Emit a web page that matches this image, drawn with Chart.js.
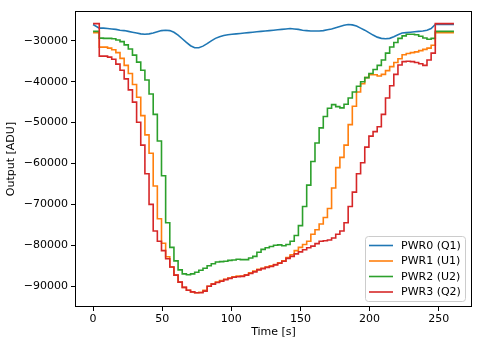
<!DOCTYPE html>
<html>
<head>
<meta charset="utf-8">
<script src="https://cdn.jsdelivr.net/npm/chart.js@4.4.0/dist/chart.umd.min.js"></script>
<style>
    html, body { margin: 0; padding: 0; background: #fff; }
    canvas { display: block; }
</style>
</head>
<body>
<canvas id="output-chart" width="483" height="347"></canvas>
<script>
// Time axis [s]
const times = [
    0, 4.5, 7.5, 10.5, 13.5, 16.5, 19.5, 22.5, 25.5, 28.5,
    31.5, 34.5, 37.5, 40.5, 43.5, 46.5, 49.5, 52.5, 55.5, 58.5,
    61.5, 64.5, 67.5, 70.5, 73.5, 76.5, 79.5, 82.5, 85.5, 88.5,
    91.5, 94.5, 97.5, 100.5, 103.5, 106.5, 109.5, 112.5, 115.5, 118.5,
    121.5, 124.5, 127.5, 130.5, 133.5, 136.5, 139.5, 142.5, 145.5, 148.5,
    151.5, 154.5, 157.5, 160.5, 163.5, 166.5, 169.5, 172.5, 175.5, 178.5,
    181.5, 184.5, 187.5, 190.5, 193.5, 196.5, 199.5, 202.5, 205.5, 208.5,
    211.5, 214.5, 217.5, 220.5, 223.5, 226.5, 229.5, 232.5, 235.5, 238.5,
    241.5, 244.5, 247.5, 261
];

// Output [ADU] per channel (each value holds until the next time)
const pwr0 = [
    -26000, -26900, -26900, -27000, -27100, -27200, -27400, -27500, -27700, -27900,
    -28100, -28300, -28400, -28300, -28100, -27800, -27500, -27400, -27500, -27900,
    -28600, -29500, -30400, -31200, -31700, -31700, -31300, -30700, -30000, -29400,
    -29000, -28700, -28500, -28400, -28300, -28200, -28100, -28000, -27900, -27800,
    -27700, -27600, -27500, -27400, -27300, -27200, -27100, -27000, -27100, -27200,
    -27400, -27500, -27600, -27600, -27600, -27500, -27300, -27100, -26800, -26500,
    -26200, -26000, -26100, -26400, -26900, -27400, -28000, -28600, -29100, -29400,
    -29500, -29400, -29000, -28500, -28100, -28000, -27900, -27800, -27700, -27600,
    -27400, -27000, -26000, -26000
];
const pwr1 = [
    -28000, -31550, -31550, -31800, -32200, -32900, -34300, -36000, -38000, -40700,
    -43800, -48300, -53000, -57500, -65500, -73500, -79500, -82800, -85300, -87300,
    -89000, -90300, -91000, -91400, -91600, -91500, -91000, -90000, -89400, -89000,
    -88600, -88300, -88000, -87700, -87500, -87500, -87200, -86700, -86300, -85900,
    -85600, -85300, -85000, -84700, -84300, -83800, -83000, -82300, -81300, -80500,
    -79800, -79000, -77300, -76200, -74800, -73200, -71000, -66000, -61000, -58500,
    -55500, -50500, -46000, -42500, -40500, -39000, -38300, -38300, -38600, -38200,
    -37300, -36300, -35300, -34400, -33400, -33100, -32900, -32700, -32400, -32100,
    -31800, -31100, -28000, -28000
];
const pwr2 = [
    -27700, -29350, -29400, -29400, -29500, -29800, -30200, -31000, -32000, -33500,
    -35200, -37200, -39600, -43000, -48000, -54500, -63000, -74500, -80500, -83800,
    -86000, -87000, -87200, -87000, -86600, -86100, -85600, -85000, -84500, -84100,
    -84000, -83900, -83700, -83600, -83400, -83500, -83500, -83100, -82700, -81700,
    -81000, -80600, -80300, -80000, -79900, -80100, -79800, -79000, -77600, -75200,
    -70500, -65300, -59500, -55000, -51300, -48500, -46500, -45600, -46100, -46400,
    -45500, -44000, -42500, -41100, -40000, -39000, -38000, -37000, -36000, -34700,
    -33000, -31500, -30400, -29400, -28800, -28400, -28400, -28500, -28900, -29300,
    -29600, -29400, -27700, -27700
];
const pwr3 = [
    -25800, -33750, -33750, -34000, -34500, -35700, -37200, -39300, -42000, -45000,
    -49900, -55500, -62500, -70000, -76500, -79000, -81300, -83300, -85300, -87300,
    -89000, -90300, -91000, -91400, -91600, -91600, -91200, -90000, -89500, -89100,
    -88800, -88400, -88100, -87800, -87700, -87600, -87300, -86900, -86500, -86000,
    -85700, -85400, -85200, -84800, -84400, -83900, -83200, -82700, -82100, -81600,
    -81100, -80600, -80200, -79600, -79000, -78900, -78700, -78200, -77300, -76500,
    -74500, -70500, -67000, -62500, -59800, -56000, -53300, -52200, -51000, -48000,
    -44000, -41000, -38200, -35900, -35100, -35000, -35100, -35300, -35600, -36000,
    -34700, -33000, -25800, -25800
];

const seriesLabels = ['PWR0 (Q1)', 'PWR1 (U1)', 'PWR2 (U2)', 'PWR3 (Q2)'];
const seriesColors = ['#1f77b4', '#ff7f0e', '#2ca02c', '#d62728'];

const xTicks = [0, 50, 100, 150, 200, 250];
const yTicks = [-90000, -80000, -70000, -60000, -50000, -40000, -30000];

function toPoints(values) {
    return values.map((v, i) => ({ x: times[i], y: v }));
}

function minusLabel(value) {
    return (value < 0 ? '\u2212' : '') + Math.abs(value);
}

// Frame around the plot area
const framePlugin = {
    id: 'frame',
    afterDraw(chart) {
        const a = chart.chartArea;
        const ctx = chart.ctx;
        ctx.save();
        ctx.strokeStyle = '#000';
        ctx.lineWidth = 1;
        ctx.strokeRect(Math.round(a.left) + 0.5, Math.round(a.top) + 0.5,
            Math.round(a.right - a.left) - 1, Math.round(a.bottom - a.top) - 1);
        ctx.restore();
    }
};

// Legend box in the lower right corner, like matplotlib
const legendPlugin = {
    id: 'boxLegend',
    afterDraw(chart) {
        const ctx = chart.ctx;
        const x = 365.5, y = 236.5, w = 100, h = 65, r = 3;
        ctx.save();
        ctx.beginPath();
        ctx.moveTo(x + r, y);
        ctx.arcTo(x + w, y, x + w, y + h, r);
        ctx.arcTo(x + w, y + h, x, y + h, r);
        ctx.arcTo(x, y + h, x, y, r);
        ctx.arcTo(x, y, x + w, y, r);
        ctx.closePath();
        ctx.fillStyle = 'rgba(255,255,255,0.8)';
        ctx.fill();
        ctx.strokeStyle = '#cccccc';
        ctx.lineWidth = 1;
        ctx.stroke();

        ctx.font = '11px "DejaVu Sans"';
        ctx.textBaseline = 'middle';
        seriesLabels.forEach((label, i) => {
            const ly = 245.5 + i * 15.5;
            ctx.strokeStyle = seriesColors[i];
            ctx.lineWidth = 1.6;
            ctx.beginPath();
            ctx.moveTo(369, ly);
            ctx.lineTo(393, ly);
            ctx.stroke();
            ctx.fillStyle = '#000';
            ctx.fillText(label, 401, ly + 0.5);
        });
        ctx.restore();
    }
};

Chart.defaults.font.family = "'DejaVu Sans', sans-serif";
Chart.defaults.font.size = 11;
Chart.defaults.color = '#000';

const allSeries = [pwr0, pwr1, pwr2, pwr3];

new Chart(document.getElementById('output-chart').getContext('2d'), {
    type: 'line',
    data: {
        datasets: allSeries.map((values, i) => ({
            label: seriesLabels[i],
            data: toPoints(values),
            borderColor: seriesColors[i],
            backgroundColor: seriesColors[i],
            borderWidth: 1.6,
            pointRadius: 0,
            // 'before': hold the level, then jump at the next time
            stepped: i === 0 ? false : 'before',
            tension: 0,
            order: 3 - i
        }))
    },
    options: {
        responsive: false,
        animation: false,
        devicePixelRatio: 1,
        layout: { padding: { left: 0.5, right: 11, top: 11, bottom: 4 } },
        plugins: {
            legend: { display: false },
            tooltip: { enabled: false }
        },
        scales: {
            x: {
                type: 'linear',
                min: -13.05,
                max: 274.05,
                afterBuildTicks: scale => { scale.ticks = xTicks.map(v => ({ value: v })); },
                afterFit: scale => { scale.height = 36; },
                grid: { display: true, drawOnChartArea: false, drawTicks: true, tickLength: 4, color: '#000' },
                border: { display: false },
                ticks: { padding: 2, maxRotation: 0, callback: minusLabel },
                title: { display: true, text: 'Time [s]', padding: { top: 4, bottom: 4 } }
            },
            y: {
                type: 'linear',
                min: -95090,
                max: -22710,
                afterBuildTicks: scale => { scale.ticks = yTicks.map(v => ({ value: v })); },
                afterFit: scale => { scale.width = 74.5; },
                grid: { display: true, drawOnChartArea: false, drawTicks: true, tickLength: 4, color: '#000' },
                border: { display: false },
                ticks: { padding: 3, callback: minusLabel },
                title: { display: true, text: 'Output [ADU]', padding: { top: 4, bottom: 4 } }
            }
        }
    },
    plugins: [framePlugin, legendPlugin]
});
</script>
</body>
</html>
